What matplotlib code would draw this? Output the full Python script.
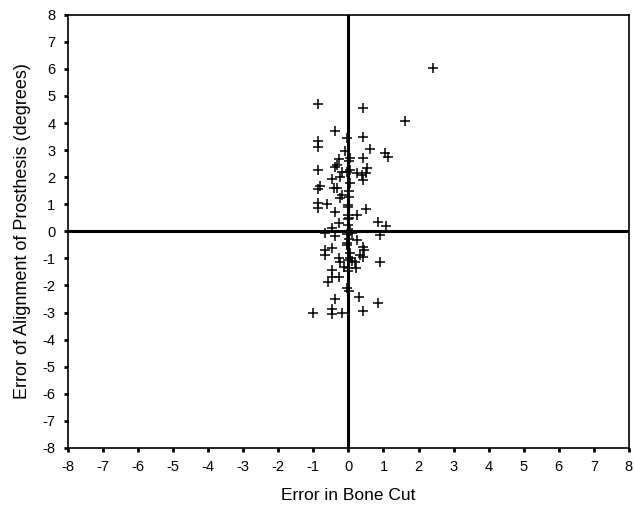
import numpy as np
import matplotlib.pyplot as plt

plt.rcParams['font.family'] = ['Liberation Sans', 'DejaVu Sans']
plt.rcParams['axes.unicode_minus'] = False

# error in bone cut (x) and error of prosthesis alignment (y)
bone_cut = [
    -0.88, 0.42, 1.62, -0.39, -0.88, -0.88, 0.42, -0.04, 0.63, -0.09,
    1.04, 1.12, 0.42, 0.06, -0.26, -0.32, -0.39, -0.18, 0.06, -0.88,
    0.53, 0.50, 0.39, 0.42, 0.25, -0.25, -0.46, -0.88, -0.80, -0.42,
    -0.32, -0.18, -0.25, 0.03, -0.88, -0.88, -0.61, -0.39, 0.00, 0.51,
    0.25, 0.00, 0.00, 0.84, 1.06, -0.26, -0.46, -0.66, -0.39, 0.91,
    0.25, -0.04, 0.42, 0.44, -0.68, -0.68, -0.46, 0.32, 0.42, -0.28,
    -0.23, 0.06, 0.10, 0.91, 0.20, 0.23, -0.13, 0.00, -0.46, -0.46,
    -0.26, -0.59, -0.04, 0.31, -0.39, 0.84, -0.46, -0.46, -0.18, 0.42,
    -1.01, 2.42, 0.02, -0.03, 0.04, 0.01, -0.02, 0.03, 0.00, 0.05,
    -0.03, 0.02, 0.10, -0.05, 0.04, 0.00, -0.02, 0.03,
]
alignment = [
    4.71, 4.55, 4.08, 3.71, 3.32, 3.11, 3.50, 3.44, 3.04, 2.95,
    2.91, 2.76, 2.70, 2.70, 2.67, 2.46, 2.37, 2.21, 2.27, 2.25,
    2.34, 2.15, 2.09, 1.90, 2.15, 2.00, 1.93, 1.57, 1.66, 1.60,
    1.60, 1.35, 1.23, 1.25, 1.04, 0.86, 1.00, 0.70, 0.96, 0.83,
    0.61, 0.60, 0.45, 0.33, 0.20, 0.30, 0.14, -0.07, -0.19, -0.13,
    -0.31, -0.44, -0.56, -0.68, -0.68, -0.87, -0.62, -0.87, -0.93, -0.97,
    -1.12, -1.00, -1.10, -1.14, -1.14, -1.36, -1.30, -1.36, -1.42, -1.67,
    -1.67, -1.88, -2.10, -2.41, -2.49, -2.65, -2.86, -3.06, -3.02, -2.94,
    -3.02, 6.05, 2.60, 2.20, 1.80, 1.50, 0.90, 0.50, 0.25, 0.02,
    -0.10, -0.30, -0.05, -0.50, -0.80, -1.05, -1.45, -2.20,
]
ticks = list(range(-8, 9))

fig = plt.figure(figsize=(6.34, 5.09), dpi=100)
ax = fig.add_axes([0.107, 0.12, 0.885, 0.851])

ax.axhline(0, color='black', lw=2.2, zorder=1)
ax.axvline(0, color='black', lw=2.2, zorder=1)
ax.plot(bone_cut, alignment, linestyle='none', marker='+', color='black',
        markersize=6.5, markeredgewidth=1.1, zorder=2)

ax.set_xlim(-8, 8)
ax.set_ylim(-8, 8)
ax.set_xticks(ticks)
ax.set_yticks(ticks)
ax.tick_params(direction='out', length=3, width=2, labelsize=10.5, pad=6)
for s in ax.spines.values():
    s.set_linewidth(1.2)

ax.set_xlabel('Error in Bone Cut', fontsize=12.5, labelpad=10)
ax.set_ylabel('Error of Alignment of Prosthesis (degrees)', fontsize=13, labelpad=8)

fig.savefig('out.png', dpi=100)
